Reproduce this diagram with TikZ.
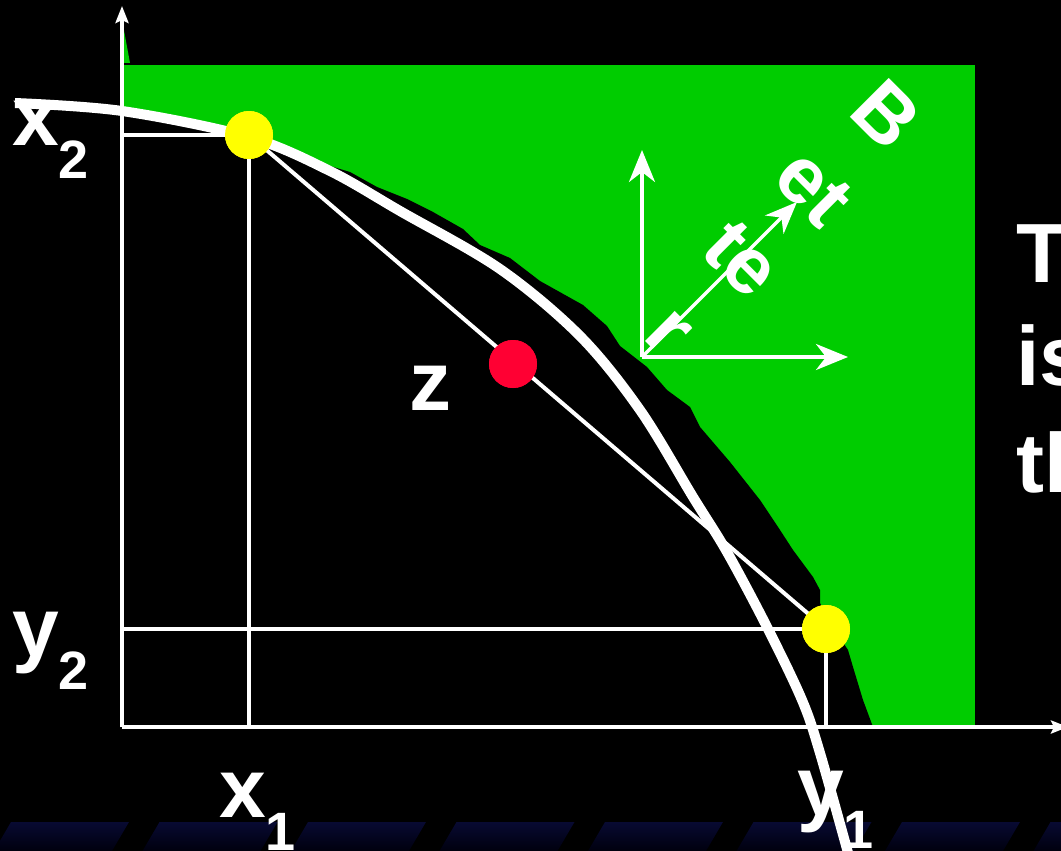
\documentclass[tikz,border=0pt]{standalone}
\usepackage{fontspec}
\setmainfont{Liberation Sans}
\usetikzlibrary{arrows.meta}
\definecolor{bggreen}{RGB}{0,204,0}
\definecolor{dotyellow}{RGB}{255,255,0}
\definecolor{dotred}{RGB}{255,0,51}
\definecolor{navytop}{RGB}{8,10,50}
\definecolor{navybot}{RGB}{0,0,14}
\newcommand\lblsub[1]{\raisebox{-33pt}{\fontsize{54}{60}\selectfont #1}}
\begin{document}
\begin{tikzpicture}[x=1pt,y=-1pt,
  thinline/.style={draw=white,line width=4pt},
  axisline/.style={draw=white,line width=3.5pt,-{Stealth[length=17pt,width=13pt,inset=3pt]}},
  framearrow/.style={draw=white,line width=3.5pt,-{Stealth[length=32pt,width=26pt,inset=10pt]}},
  bigcurve/.style={draw=white,line width=10pt},
  dot/.style={circle,minimum size=48pt,inner sep=0pt},
  lbl/.style={text=white,font=\fontsize{84}{100}\selectfont\bfseries,inner sep=0pt,anchor=base west},
  stripe/.style={top color=navytop,bottom color=navybot}
]
\useasboundingbox (0,0) rectangle (1061,851);
\clip (0,0) rectangle (1061,851);
\fill[black] (0,0) rectangle (1061,851);
% bottom stripes
\foreach \k in {0,...,7}{
  \fill[stripe] ({148.5*\k-6},851) -- ++(118,0) -- ++(17,-29) -- ++(-118,0) -- cycle;
}
% green region
\fill[bggreen] (122,65) rectangle (975,727);
\fill[bggreen] (123,25) -- (130,63) -- (123,63) -- cycle;
% black region with jagged boundary
\fill[black] (122,110) -- (150,114) -- (187,120) -- (227,131) -- (250,138) -- (273,147)
  -- (300,157) -- (350,172) -- (377,187) -- (407,199) -- (433,212) -- (463,229)
  -- (480,245) -- (510,258) -- (540,281) -- (583,305) -- (607,326) -- (620,346)
  -- (647,367) -- (667,390) -- (690,407) -- (700,427) -- (730,462) -- (760,500)
  -- (780,530) -- (793,550) -- (813,577) -- (820,590) -- (820,603) -- (835,630)
  -- (848,650) -- (853,667) -- (863,700) -- (873,727) -- (122,727) -- cycle;
% coordinates
\coordinate (O) at (122,727);
\coordinate (ytip) at (122,6);
\coordinate (xtip) at (1068,727);
\coordinate (x2l) at (122,135);
\coordinate (x1b) at (249,727);
\coordinate (y2l) at (122,629);
\coordinate (y1b) at (826,727);
% axes
\draw[axisline] (O) -- (ytip);
\draw[axisline] (O) -- (xtip);
% helper lines
\node[dot,fill=dotyellow] (p1) at (249,135) {};
\node[dot,fill=dotyellow] (p2) at (826,629) {};
\node[dot,fill=dotred] (zd) at (513,364) {};
\draw[thinline] (x2l) -- (p1.center);
\draw[thinline] (p1.center) -- (x1b);
\draw[thinline] (y2l) -- (p2.center);
\draw[thinline] (p2.center) -- (y1b);
\draw[thinline] (p1.center) -- (p2.center);
% big curve
\draw[bigcurve] plot[smooth,tension=0.55] coordinates {(15,103) (122,111) (249,137) (330,171) (400,211) (500,269) (580,336) (640,410) (693,497) (727,552) (767,627) (802,700) (820,753) (850,860)};
% dots on top
\node[dot,fill=dotyellow] (p1b) at (p1) {};
\node[dot,fill=dotyellow] (p2b) at (p2) {};
\node[dot,fill=dotred] (zdb) at (zd) {};
% rotated text
\node[text=white,font=\fontsize{80}{101}\selectfont\bfseries,align=center,rotate=-45,inner sep=0pt] (better) at (779,222) {B\\et\\te\\r};
% frame arrows
\coordinate (fo) at (642,357);
\coordinate (fup) at (642,150);
\coordinate (fright) at (848,357);
\coordinate (fdiag) at (797,202);
\draw[framearrow] (fo) -- (fup);
\draw[framearrow] (fo) -- (fright);
\draw[framearrow] (fo) -- (fdiag);
% labels
\node[lbl] (lx2) at (12,145) {x\lblsub{2}};
\node[lbl] (ly2) at (12,656) {y\lblsub{2}};
\node[lbl] (lx1) at (219,817) {x\lblsub{1}};
\node[lbl] (ly1) at (797,815) {y\lblsub{1}};
\node[lbl] (lz) at (409,410) {z};
% right cut-off text
\node[lbl] (r1) at (1016,282) {T};
\node[lbl] (r2) at (1016,385) {is};
\node[lbl] (r3) at (1016,492) {th};
\end{tikzpicture}
\end{document}
